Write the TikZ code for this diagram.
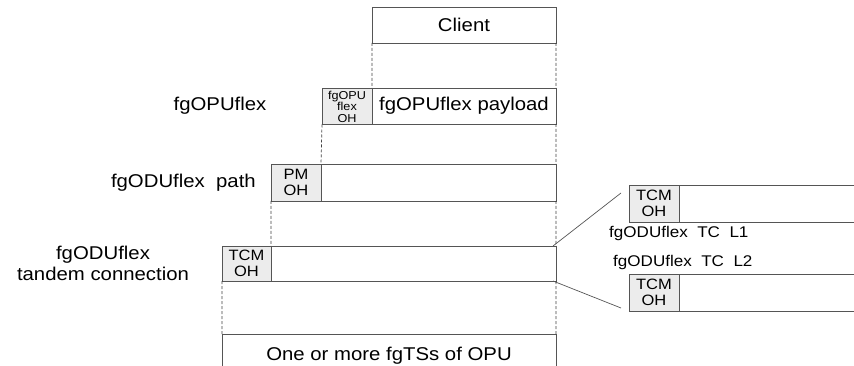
\documentclass[tikz,border=0pt]{standalone}
\usepackage{fontspec}
\newfontfamily\diagfont[FakeStretch=1.1]{Liberation Sans}
\usetikzlibrary{positioning}
\definecolor{boxline}{RGB}{85,85,85}
\definecolor{ohfill}{RGB}{236,236,236}

\begin{document}
\begin{tikzpicture}[x=1pt, y=-1pt, node distance=0pt,
    box/.style={draw=boxline, line width=0.8pt, inner sep=0pt, outer sep=0pt,
                font=\diagfont\fontsize{18.5}{21}\selectfont},
    oh/.style={box, fill=ohfill, align=center, font=\diagfont\fontsize{15}{16}\selectfont},
    lbl/.style={inner sep=0pt, align=center, font=\diagfont\fontsize{18.5}{21}\selectfont},
    tclbl/.style={inner sep=0pt, anchor=west, font=\diagfont\fontsize{15.5}{18}\selectfont},
    dashline/.style={draw=black!75, line width=0.7pt, dash pattern=on 3pt off 2pt}]
  \clip (0,0) rectangle (854,366);
  % client and fgOPUflex
  \node[box, minimum width=184pt, minimum height=36pt] (client) at (464,25) {Client};
  \node[oh, minimum width=50pt, minimum height=36pt,
        font=\diagfont\fontsize{11.5}{11.5}\selectfont] (opuoh) at (347,106.5) {fgOPU\\flex\\OH};
  \node[box, minimum width=184pt, minimum height=36pt] (opupl) at (464,106) {fgOPUflex payload};
  % fgODUflex path
  \node[oh, minimum width=50pt, minimum height=37pt] (pmoh) at (296,182.5) {PM\\OH};
  \node[box, minimum width=235pt, minimum height=37pt] (pmpl) [right=of pmoh] {};
  % tandem connection
  \node[oh, minimum width=49pt, minimum height=35pt] (tcmoh) at (246.5,263.5) {TCM\\OH};
  \node[box, minimum width=285pt, minimum height=35pt] (tcmpl) [right=of tcmoh] {};
  \node[box, minimum width=334pt, minimum height=40pt, text depth=0pt] (fgts) at (389,354) {One or more fgTSs of OPU};
  % TC levels
  \node[oh, minimum width=50pt, minimum height=37pt] (l1oh) at (654,203.5) {TCM\\OH};
  \node[box, minimum width=190pt, minimum height=37pt] (l1pl) [right=of l1oh] {};
  \node[oh, minimum width=50pt, minimum height=37pt] (l2oh) at (654,292.5) {TCM\\OH};
  \node[box, minimum width=190pt, minimum height=37pt] (l2pl) [right=of l2oh] {};
  % labels
  \node[lbl] (opulbl) at (220,106) {fgOPUflex};
  \node[lbl, anchor=east] (pathlbl) at (256,183) {fgODUflex\ \ path};
  \node[lbl] (tclbl) at (103,263) {fgODUflex\\tandem connection};
  \node[tclbl] (l1lbl) at (609,233) {fgODUflex\ \ TC\ \ L1};
  \node[tclbl] (l2lbl) at (613,262) {fgODUflex\ \ TC\ \ L2};
  \coordinate (l1end) at (621,193);
  \coordinate (l2end) at (621,308);
  % dashed guides
  \path[dashline]
    (client.south west) -- (opupl.north west)
    (client.south east) -- (opupl.north east)
    (opuoh.south west)  -- (pmpl.north west)
    (opupl.south east)  -- (pmpl.north east)
    (pmoh.south west)   -- (tcmpl.north west)
    (pmpl.south east)   -- (tcmpl.north east)
    (tcmoh.south west)  -- (fgts.north west)
    (tcmpl.south east)  -- (fgts.north east);
  \draw[boxline, line width=0.7pt]
    ([xshift=-3pt]tcmpl.north east) -- (l1end)
    ([xshift=-3pt]tcmpl.south east) -- (l2end);
\end{tikzpicture}
\end{document}
